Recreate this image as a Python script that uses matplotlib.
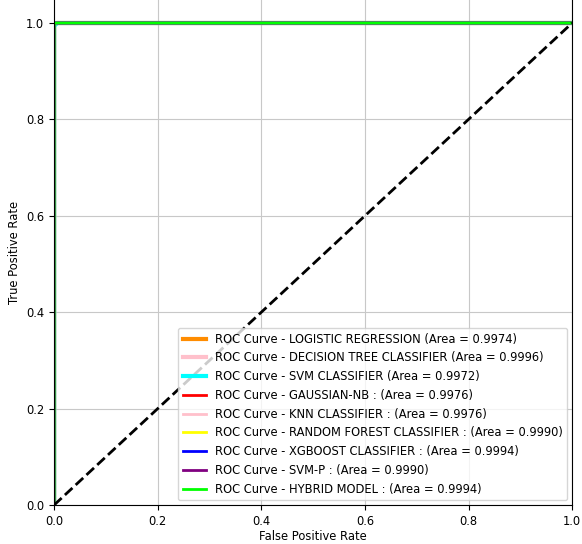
import matplotlib
matplotlib.use('Agg')
import matplotlib.pyplot as plt

# model names, areas and ROC points
models = ['LOGISTIC REGRESSION', 'DECISION TREE CLASSIFIER', 'SVM CLASSIFIER',
          'GAUSSIAN-NB', 'KNN CLASSIFIER', 'RANDOM FOREST CLASSIFIER',
          'XGBOOST CLASSIFIER', 'SVM-P', 'HYBRID MODEL']
areas = [0.9974, 0.9996, 0.9972, 0.9976, 0.9976, 0.9990, 0.9994, 0.9990, 0.9994]
seps = [' ', ' ', ' ', ' : ', ' : ', ' : ', ' : ', ' : ', ' : ']
colors = ['darkorange', 'pink', 'cyan', 'red', 'pink', 'yellow', 'blue', 'purple', 'lime']
widths = [3, 3, 3, 2, 2, 2, 2, 2, 2]

fpr = [
    [0.0, 0.0, 0.005, 1.0],
    [0.0, 0.0, 0.001, 1.0],
    [0.0, 0.0, 0.006, 1.0],
    [0.0, 0.0, 0.005, 1.0],
    [0.0, 0.0, 0.005, 1.0],
    [0.0, 0.0, 0.002, 1.0],
    [0.0, 0.0, 0.001, 1.0],
    [0.0, 0.0, 0.002, 1.0],
    [0.0, 0.0, 0.001, 1.0],
]
tpr = [
    [0.0, 0.995, 1.0, 1.0],
    [0.0, 0.999, 1.0, 1.0],
    [0.0, 0.994, 1.0, 1.0],
    [0.0, 0.995, 1.0, 1.0],
    [0.0, 0.995, 1.0, 1.0],
    [0.0, 0.998, 1.0, 1.0],
    [0.0, 0.999, 1.0, 1.0],
    [0.0, 0.998, 1.0, 1.0],
    [0.0, 0.995, 1.0, 1.0],
]

plt.rcParams['font.size'] = 8.3

fig = plt.figure(figsize=(5.82, 5.44), dpi=100)
ax = fig.add_axes([0.093, 0.0717, 0.890, 0.9303])

for i in range(len(models)):
    label = 'ROC Curve - ' + models[i] + seps[i] + '(Area = %0.4f)' % areas[i]
    ax.plot(fpr[i], tpr[i], color=colors[i], lw=widths[i], label=label)

ax.plot([0, 1], [0, 1], color='black', lw=2, linestyle='--')
ax.set_xlim(0.0, 1.0)
ax.set_ylim(0.0, 1.05)
ax.set_xlabel('False Positive Rate', labelpad=2)
ax.set_ylabel('True Positive Rate')
ax.grid(True, color='#c8c8c8')
ax.legend(loc='lower right', borderaxespad=0.4)

fig.savefig('out.png', dpi=100)
